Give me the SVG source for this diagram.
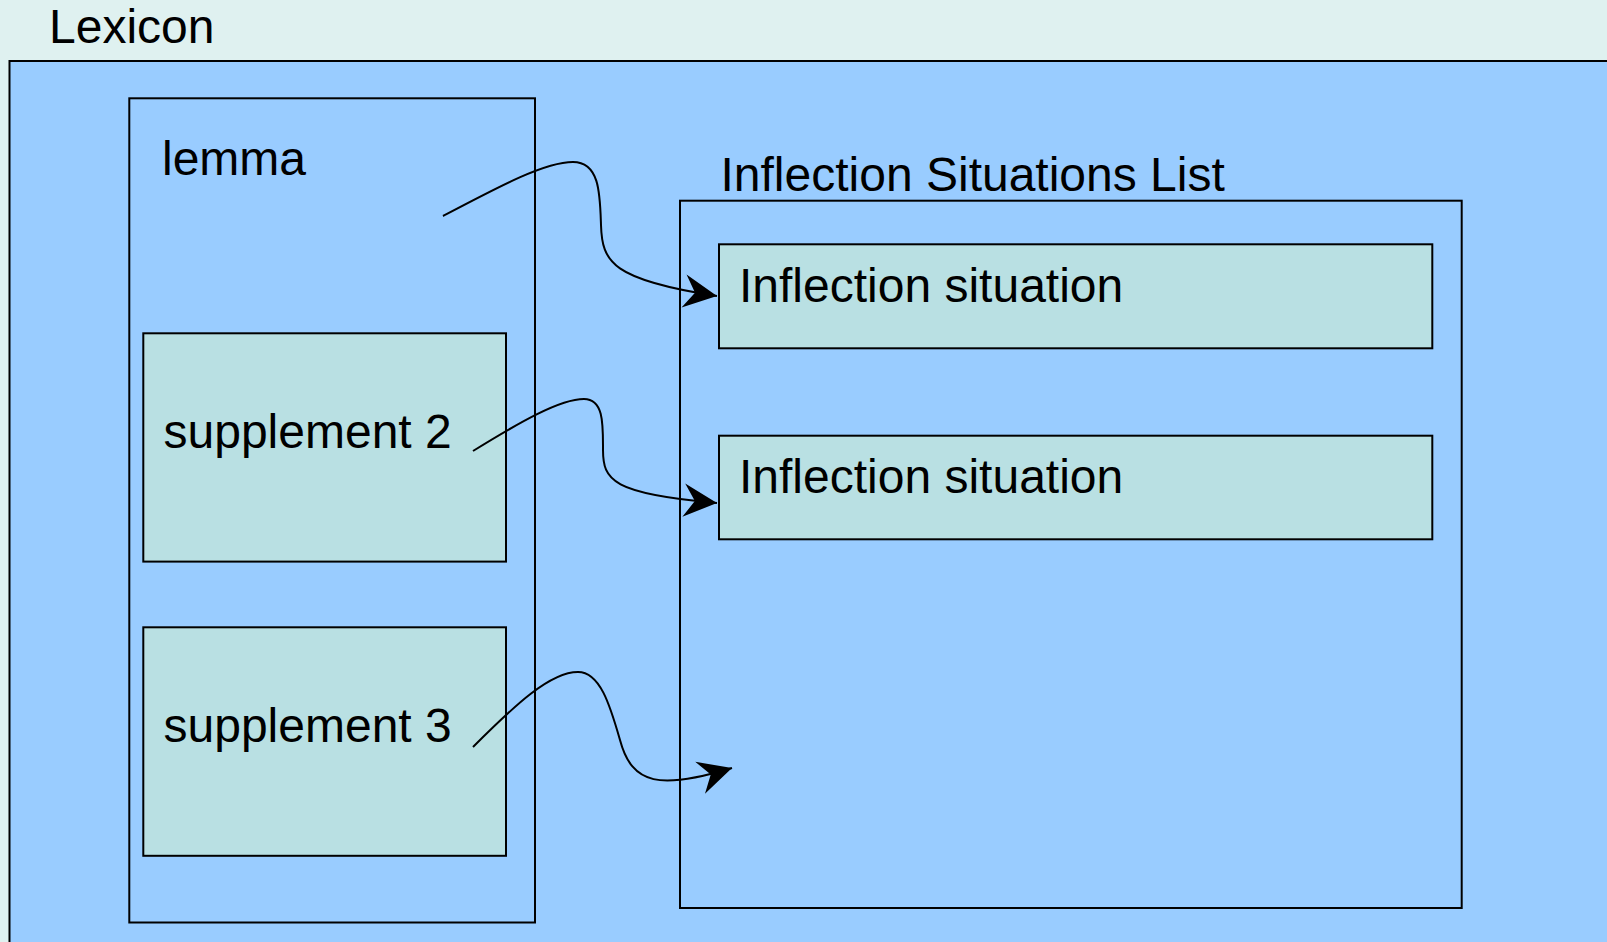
<svg xmlns="http://www.w3.org/2000/svg" width="1607" height="942" viewBox="0 0 1607 942">
  <style>
    .frame { fill: #99CCFF; stroke: #000; stroke-width: 2; }
    .item { fill: #B9E0E3; stroke: #000; stroke-width: 2; }
    .label { font-family: "Liberation Sans", Arial, sans-serif; font-size: 48px; fill: #000; }
    .link { fill: none; stroke: #000; stroke-width: 2; }
  </style>
  <defs>
    <marker id="arrow" markerUnits="userSpaceOnUse" markerWidth="40" markerHeight="40" viewBox="-32 -18 36 36" refX="0" refY="0" orient="auto" overflow="visible">
      <path d="M0,0 L-30,-15 L-20,0 L-30,15 Z" fill="#000"/>
    </marker>
  </defs>

  <!-- page background -->
  <rect x="0" y="0" width="1607" height="942" fill="#DFF1F0"/>

  <g id="lexicon">
    <rect class="frame" x="9.5" y="61" width="1610" height="900"/>
    <text class="label" x="49" y="43">Lexicon</text>
  </g>

  <g id="lemma">
    <rect class="frame" x="129.3" y="98.3" width="405.7" height="824.2"/>
    <text class="label" x="162" y="175">lemma</text>
  </g>

  <g id="supplement2">
    <rect class="item" x="143.3" y="333.3" width="362.7" height="228.3"/>
    <text class="label" x="163.5" y="448">supplement 2</text>
  </g>

  <g id="supplement3">
    <rect class="item" x="143.3" y="627.3" width="362.7" height="228.5"/>
    <text class="label" x="163.5" y="742">supplement 3</text>
  </g>

  <g id="situations-list">
    <rect class="frame" x="680" y="200.7" width="781.7" height="707.3"/>
    <text class="label" x="720.5" y="191">Inflection Situations List</text>
  </g>

  <g id="situation1">
    <rect class="item" x="719" y="244.3" width="713.3" height="104"/>
    <text class="label" x="739" y="302">Inflection situation</text>
  </g>

  <g id="situation2">
    <rect class="item" x="719" y="435.7" width="713.3" height="103.6"/>
    <text class="label" x="739" y="493">Inflection situation</text>
  </g>

  <g id="connectors">
    <path class="link" marker-end="url(#arrow)" d="M443,216 C500,186 545,162 573,162 C600,162 600,195 601,225 C602,262 612,280 717,296"/>
    <path class="link" marker-end="url(#arrow)" d="M473,451 C520,422 560,399 584,399 C604,399 603,425 603,450 C603,480 612,494 717,503"/>
    <path class="link" marker-end="url(#arrow)" d="M473,747 C515,705 550,672 578,672 C600,672 610,705 620,740 C632,785 660,790 732,768"/>
  </g>
</svg>
